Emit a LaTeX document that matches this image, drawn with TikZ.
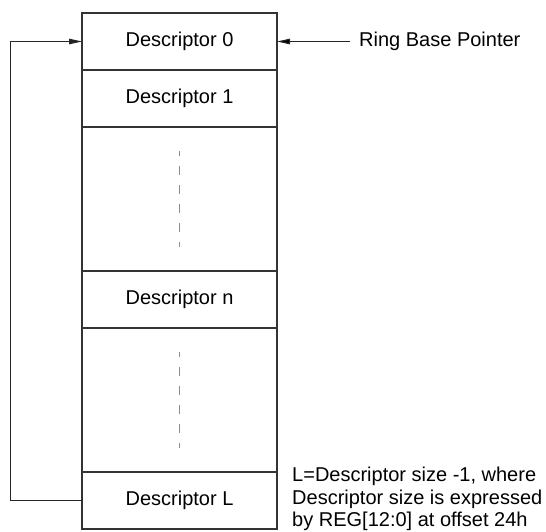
\documentclass[tikz,border=0pt]{standalone}
\usepackage{fontspec}
\setmainfont{Liberation Sans}
\usetikzlibrary{arrows.meta, positioning}

\begin{document}
\begin{tikzpicture}[
    x=1pt, y=-1pt,
    >={Triangle[length=13pt, width=5.5pt]},
    font=\fontsize{20}{22.5}\selectfont,
    desc/.style={rectangle, draw=black!80, line width=1.1pt, minimum width=195pt, minimum height=57pt, inner sep=0pt, outer sep=0pt},
    gapbox/.style={desc, minimum height=144pt},
    dots/.style={draw=black!45, line width=1pt, dash pattern=on 9pt off 10pt, dash phase=4.5pt},
    link/.style={->, draw=black!85, line width=1pt},
]
    \useasboundingbox (0,0) rectangle (546,531);

    \node[desc]                    (D0) at (179.5, 41.5) {Descriptor 0};
    \node[desc, below=0pt of D0]   (D1) {Descriptor 1};
    \node[gapbox, below=0pt of D1] (G1) {};
    \node[desc, below=0pt of G1]   (Dn) {Descriptor n};
    \node[gapbox, below=0pt of Dn] (G2) {};
    \node[desc, below=0pt of G2]   (DL) {Descriptor L};

    \node[inner xsep=9pt, right=73pt of D0] (RBP) {Ring Base Pointer};
    \node[align=left, inner sep=0pt, anchor=south west] (note) at ([xshift=15pt, yshift=-2pt]DL.south east)
        {L=Descriptor size -1, where\\Descriptor size is expressed\\by REG[12:0] at offset 24h};

    % vertical dots in the gaps
    \draw[dots] ([yshift=-24pt]G1.north) -- ([yshift=24pt]G1.south);
    \draw[dots] ([yshift=-24pt]G2.north) -- ([yshift=24pt]G2.south);

    \path[link]
        (RBP) edge (D0)
    ;
    \draw[link] (DL.west) -- ++(-72,0) |- (D0.west);
\end{tikzpicture}
\end{document}
